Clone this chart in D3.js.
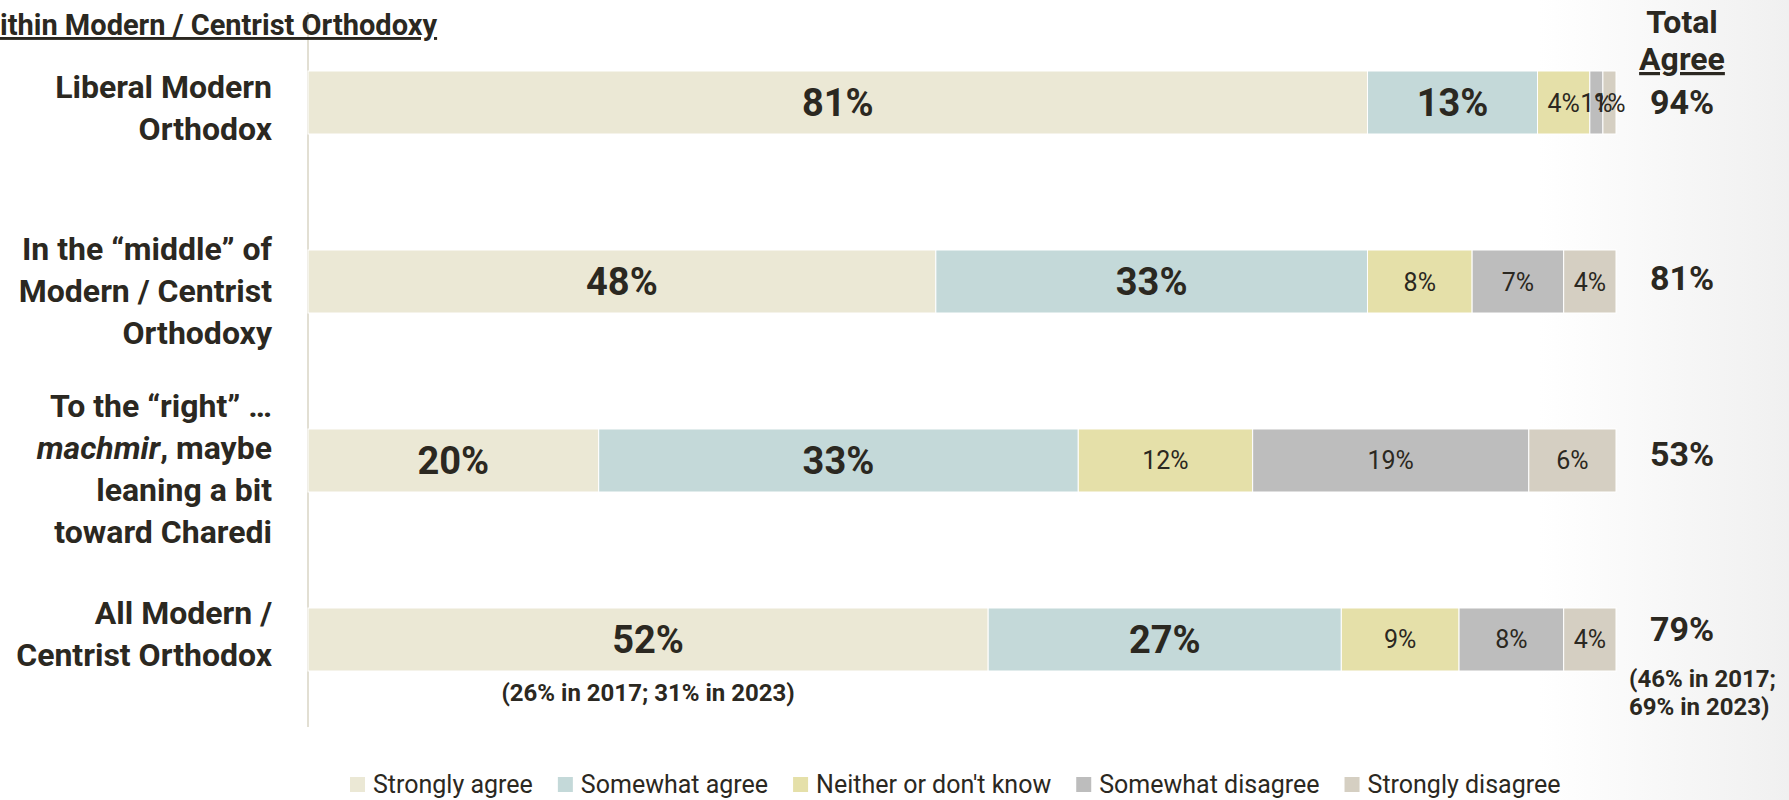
<!DOCTYPE html>
<html>
<head>
<meta charset="utf-8">
<script src="https://cdn.jsdelivr.net/npm/d3@7"></script>
<style>
  html, body { margin: 0; padding: 0; background: #fff; }
  svg { display: block; font-family: Roboto, "Liberation Sans", sans-serif; }
</style>
</head>
<body>
<svg id="chart" width="1789" height="800"></svg>
<script>
// ---- Data ----
const categories = ["Liberal", "Middle", "Right", "All"];
const categoryLabels = [
  ["Liberal Modern", "Orthodox"],
  ["In the \u201cmiddle\u201d of", "Modern / Centrist", "Orthodoxy"],
  ["To the \u201cright\u201d \u2026", "*machmir*, maybe", "leaning a bit", "toward Charedi"],
  ["All Modern /", "Centrist Orthodox"]
];
const seriesNames = ["Strongly agree", "Somewhat agree", "Neither or don't know", "Somewhat disagree", "Strongly disagree"];
const stronglyAgree    = [81, 48, 20, 52];
const somewhatAgree    = [13, 33, 33, 27];
const neither          = [4, 8, 12, 9];
const somewhatDisagree = [1, 7, 19, 8];
const stronglyDisagree = [1, 4, 6, 4];
const totalAgree = ["94%", "81%", "53%", "79%"];
const titleText = "ithin Modern / Centrist Orthodoxy";
const totalHeader = ["Total", "Agree"];
const noteUnderBar = "(26% in 2017; 31% in 2023)";
const noteTotal = ["(46% in 2017;", "69% in 2023)"];

// ---- Styles ----
const colors = ["#EBE8D5", "#C4D9D9", "#E5E0A9", "#BDBDBD", "#D5CFC2"];
const ink = "#2B2821";
const boldSeries = [true, true, false, false, false];
const labelShift = [5, 9, 8, -6]; // vertical nudge of category label blocks (layout)

const svg = d3.select("#chart");

// subtle background shading at right edge
const defs = svg.append("defs");
const grad = defs.append("linearGradient").attr("id", "bg").attr("x1", "0").attr("x2", "1").attr("y1", "0").attr("y2", "0");
grad.append("stop").attr("offset", "0.86").attr("stop-color", "#ffffff");
grad.append("stop").attr("offset", "1").attr("stop-color", "#f0f0f0");
svg.append("rect").attr("width", 1789).attr("height", 800).attr("fill", "url(#bg)");

const seriesArrays = [stronglyAgree, somewhatAgree, neither, somewhatDisagree, stronglyDisagree];
const rows = categories.map((c, i) => {
  const vals = seriesArrays.map(a => a[i]);
  return { cat: c, vals, total: d3.sum(vals), i };
});

const x0 = 308, x1 = 1616;
const y = d3.scaleBand().domain(categories).range([71, 671]).paddingInner(0.648).paddingOuter(0);

// vertical axis line
svg.append("line").attr("x1", x0).attr("x2", x0).attr("y1", 12).attr("y2", 727)
  .attr("stroke", "#E2DFD3").attr("stroke-width", 2);

// title (clipped at left/top in the reference)
svg.append("text").attr("x", 0).attr("y", 35).attr("font-size", 29).attr("font-weight", 700)
  .attr("fill", ink).attr("text-decoration", "underline").text(titleText);

// bars
rows.forEach(r => {
  const xs = d3.scaleLinear().domain([0, r.total]).range([x0, x1]);
  let acc = 0;
  const segs = r.vals.map((v, k) => { const s = { v, k, a: acc, b: acc + v }; acc += v; return s; });
  const g = svg.append("g");
  g.selectAll("rect").data(segs).join("rect")
    .attr("x", d => xs(d.a)).attr("width", d => xs(d.b) - xs(d.a))
    .attr("y", y(r.cat)).attr("height", y.bandwidth())
    .attr("fill", d => colors[d.k]).attr("stroke", "#ffffff").attr("stroke-width", 1);
  g.selectAll("text").data(segs).join("text")
    .attr("x", d => (xs(d.a) + xs(d.b)) / 2)
    .attr("y", y(r.cat) + y.bandwidth() / 2)
    .attr("dy", "0.36em")
    .attr("text-anchor", "middle")
    .attr("font-size", d => boldSeries[d.k] ? 38 : 25)
    .attr("font-weight", d => boldSeries[d.k] ? 700 : 400)
    .attr("fill", ink)
    .text(d => d.v + "%");
});

// category labels
const lineH = 42;
categoryLabels.forEach((lines, i) => {
  const cy = y(categories[i]) + y.bandwidth() / 2 + labelShift[i];
  const startY = cy - (lines.length - 1) * lineH / 2;
  lines.forEach((ln, j) => {
    const t = svg.append("text").attr("x", 272).attr("y", startY + j * lineH).attr("dy", "0.36em")
      .attr("text-anchor", "end").attr("font-size", 32).attr("font-weight", 700).attr("fill", ink);
    const parts = ln.split("*");
    parts.forEach((p, k) => {
      if (p === "") return;
      t.append("tspan").attr("font-style", k % 2 === 1 ? "italic" : "normal").text(p);
    });
  });
});

// total agree column
const totX = 1682;
const yTot = d3.scalePoint().domain(categories).range([102, 629]);
svg.append("text").attr("x", totX).attr("y", 33).attr("text-anchor", "middle").attr("font-size", 32)
  .attr("font-weight", 700).attr("fill", ink).text(totalHeader[0]);
svg.append("text").attr("x", totX).attr("y", 70).attr("text-anchor", "middle").attr("font-size", 32)
  .attr("font-weight", 700).attr("fill", ink).attr("text-decoration", "underline").text(totalHeader[1]);
svg.selectAll("text.tot").data(categories).join("text").attr("class", "tot")
  .attr("x", totX).attr("y", d => yTot(d)).attr("dy", "0.36em").attr("text-anchor", "middle")
  .attr("font-size", 34).attr("font-weight", 700).attr("fill", ink)
  .text((d, i) => totalAgree[i]);

// notes
const lastRow = rows[3];
const xsLast = d3.scaleLinear().domain([0, lastRow.total]).range([x0, x1]);
svg.append("text").attr("x", (xsLast(0) + xsLast(lastRow.vals[0])) / 2).attr("y", 701)
  .attr("text-anchor", "middle").attr("font-size", 24).attr("font-weight", 700).attr("fill", ink).text(noteUnderBar);
noteTotal.forEach((t, j) => {
  svg.append("text").attr("x", 1629).attr("y", 687 + j * 28).attr("font-size", 24)
    .attr("font-weight", 700).attr("fill", ink).text(t);
});

// legend
const lg = svg.append("g");
let lx = 350;
seriesNames.forEach((n, k) => {
  lg.append("rect").attr("x", lx).attr("y", 777).attr("width", 15).attr("height", 15).attr("fill", colors[k]);
  const t = lg.append("text").attr("x", lx + 23).attr("y", 793).attr("font-size", 25).attr("fill", ink).text(n);
  lx += 23 + t.node().getComputedTextLength() + 25;
});
</script>
</body>
</html>
